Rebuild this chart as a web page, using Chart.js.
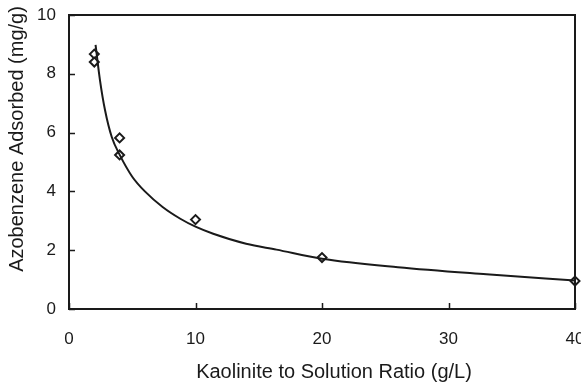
<!DOCTYPE html>
<html>
<head>
<meta charset="utf-8">
<script src="https://cdn.jsdelivr.net/npm/chart.js@4"></script>
<style>
  html, body { margin: 0; padding: 0; background: #fff; }
  #wrap { width: 581px; height: 390px; }
</style>
</head>
<body>
<div id="wrap"><canvas id="chart" width="581" height="390"></canvas></div>
<script>
// measured points (diamonds)
const pointX = [2, 2, 4, 4, 10, 20, 40];
const pointY = [8.67, 8.40, 5.82, 5.24, 3.04, 1.75, 0.95];

// fitted curve
const curveX = [2.1, 2.45, 2.85, 3.38, 4, 5, 6, 7.4, 8.8, 10, 11.4, 14, 16.4, 20, 26, 33, 40];
const curveY = [8.98, 7.78, 6.76, 5.85, 5.25, 4.5, 4.0, 3.47, 3.07, 2.8, 2.56, 2.22, 2.02, 1.71, 1.42, 1.18, 0.97];

const xTicks = [0, 10, 20, 30, 40];
const yTicks = [0, 2, 4, 6, 8, 10];

const xTitle = 'Kaolinite to Solution Ratio (g/L)';
const yTitle = 'Azobenzene Adsorbed (mg/g)';

const ink = '#1a1a1a';
const fontName = '"Liberation Sans", Arial, sans-serif';

// no extra room for edge labels, the plot box is fixed
function fixBox(s, w, h) {
    if (w) s.width = w;
    if (h) s.height = h;
    s.paddingLeft = 0;
    s.paddingRight = 0;
    s.paddingTop = 0;
    s.paddingBottom = 0;
}

// frame, inward ticks and axis titles
const framePlugin = {
    id: 'frame',
    afterDatasetsDraw(chart) {
        const ctx = chart.ctx;
        const a = chart.chartArea;
        const xs = chart.scales.x;
        const ys = chart.scales.y;
        ctx.save();
        ctx.strokeStyle = ink;
        ctx.lineWidth = 2;
        ctx.strokeRect(a.left, a.top, a.right - a.left, a.bottom - a.top);

        ctx.lineWidth = 1.5;
        ctx.beginPath();
        xTicks.forEach(v => {
            const px = Math.round(xs.getPixelForValue(v)) + 0.5;
            ctx.moveTo(px, a.bottom);
            ctx.lineTo(px, a.bottom - 6);
        });
        yTicks.forEach(v => {
            const py = Math.round(ys.getPixelForValue(v)) + 0.5;
            ctx.moveTo(a.left, py);
            ctx.lineTo(a.left + 6, py);
        });
        ctx.stroke();

        ctx.fillStyle = ink;
        ctx.font = '20px ' + fontName;
        ctx.textAlign = 'center';
        ctx.textBaseline = 'middle';
        ctx.fillText(xTitle, 334, 372);

        ctx.translate(17, 139);
        ctx.rotate(-Math.PI / 2);
        ctx.fillText(yTitle, 0, 0);
        ctx.restore();
    }
};

new Chart(document.getElementById('chart'), {
    type: 'scatter',
    data: {
        datasets: [{
            label: 'fit',
            data: curveX.map((x, i) => ({ x: x, y: curveY[i] })),
            showLine: true,
            borderColor: ink,
            borderWidth: 2,
            pointRadius: 0,
            cubicInterpolationMode: 'monotone',
            clip: false
        }, {
            label: 'measured',
            data: pointX.map((x, i) => ({ x: x, y: pointY[i] })),
            pointStyle: 'rectRot',
            pointRadius: 4.5,
            pointBorderWidth: 2,
            pointBorderColor: ink,
            pointBackgroundColor: '#fff',
            clip: false
        }]
    },
    options: {
        responsive: false,
        animation: false,
        layout: { autoPadding: false, padding: { top: 15, right: 6, left: 0, bottom: 0 } },
        plugins: {
            legend: { display: false },
            tooltip: { enabled: false }
        },
        scales: {
            x: {
                type: 'linear',
                min: 0,
                max: 40,
                afterBuildTicks: s => { s.ticks = xTicks.map(v => ({ value: v })); },
                afterFit: s => fixBox(s, 0, 81),
                grid: { display: false, drawTicks: false },
                border: { display: false },
                ticks: { color: ink, padding: 20, font: { family: fontName, size: 17 } }
            },
            y: {
                type: 'linear',
                min: 0,
                max: 10,
                afterBuildTicks: s => { s.ticks = yTicks.map(v => ({ value: v })); },
                afterFit: s => fixBox(s, 69, 0),
                grid: { display: false, drawTicks: false },
                border: { display: false },
                ticks: { color: ink, padding: 13, font: { family: fontName, size: 17 } }
            }
        }
    },
    plugins: [framePlugin]
});
</script>
</body>
</html>
